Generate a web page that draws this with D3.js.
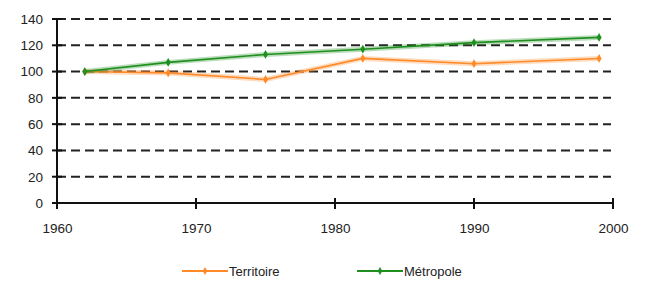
<!DOCTYPE html>
<html>
<head>
<meta charset="utf-8">
<script src="https://cdn.jsdelivr.net/npm/d3@7"></script>
<style>
  body { margin: 0; background: #fff; }
  text { font-family: "Liberation Sans", Arial, sans-serif; }
</style>
</head>
<body>
<div id="chart"></div>
<script>
// data
var years = [1962, 1968, 1975, 1982, 1990, 1999];
var territoire = [100, 99, 94, 110, 106, 110];
var metropole = [100, 107, 113, 117, 122, 126];
var yTicks = [0, 20, 40, 60, 80, 100, 120, 140];
var xTicks = [1960, 1970, 1980, 1990, 2000];
var seriesNames = ['Territoire', 'Métropole'];
var seriesColors = ['#ff8a2a', '#1f8f1f'];

var width = 648, height = 282;
var margins = { top: 19, right: 35, bottom: 79, left: 57 };
var chartWidth = width - margins.left - margins.right;
var chartHeight = height - margins.top - margins.bottom;

var svg = d3.select('#chart').append('svg')
  .attr('width', width)
  .attr('height', height);

var g = svg.append('g')
  .attr('transform', `translate(${margins.left},${margins.top})`);

var xScale = d3.scaleLinear().domain([1960, 2000]).range([0, 556]);
var yScale = d3.scaleLinear().domain([0, 140]).range([chartHeight, 0]);

// dashed gridlines
g.selectAll('.grid')
  .data(yTicks.filter(function(d) { return d > 0; }))
  .enter().append('line')
  .attr('x1', 0)
  .attr('x2', 554)
  .attr('y1', function(d) { return yScale(d); })
  .attr('y2', function(d) { return yScale(d); })
  .attr('stroke', '#222')
  .attr('stroke-width', 2)
  .attr('stroke-dasharray', '9,5');

// y axis: ticks cross the axis line
var yAxis = d3.axisLeft(yScale).tickValues(yTicks).tickSize(0).tickPadding(14);
var ya = g.append('g').call(yAxis);
ya.select('.domain').remove();
ya.selectAll('text').attr('font-size', 13.5).attr('fill', '#222');
g.append('line').attr('x1', 0).attr('x2', 0).attr('y1', 0).attr('y2', chartHeight)
  .attr('stroke', '#111').attr('stroke-width', 2);
g.selectAll('.ytick').data(yTicks).enter().append('line')
  .attr('x1', -5).attr('x2', 5)
  .attr('y1', function(d) { return yScale(d); })
  .attr('y2', function(d) { return yScale(d); })
  .attr('stroke', '#111').attr('stroke-width', 2);

// x axis
var xAxis = d3.axisBottom(xScale).tickValues(xTicks).tickFormat(d3.format('d')).tickSize(0).tickPadding(20);
var xa = g.append('g').attr('transform', `translate(0,${chartHeight})`).call(xAxis);
xa.select('.domain').remove();
xa.selectAll('text').attr('font-size', 13.5).attr('fill', '#222');
g.append('line').attr('x1', 0).attr('x2', xScale(2000)).attr('y1', chartHeight).attr('y2', chartHeight)
  .attr('stroke', '#111').attr('stroke-width', 2);
g.selectAll('.xtick').data(xTicks).enter().append('line')
  .attr('x1', function(d) { return xScale(d); })
  .attr('x2', function(d) { return xScale(d); })
  .attr('y1', chartHeight - 5).attr('y2', chartHeight + 6)
  .attr('stroke', '#111').attr('stroke-width', 2);

// series lines
var line = d3.line()
  .x(function(d) { return xScale(d.year); })
  .y(function(d) { return yScale(d.value); });

[territoire, metropole].forEach(function(values, i) {
  var pts = years.map(function(y, j) { return { year: y, value: values[j] }; });
  g.append('path').datum(pts).attr('d', line)
    .attr('fill', 'none').attr('stroke', seriesColors[i])
    .attr('stroke-opacity', 0.3).attr('stroke-width', 5);
  g.append('path').datum(pts).attr('d', line)
    .attr('fill', 'none').attr('stroke', seriesColors[i]).attr('stroke-width', 1.6);
  g.selectAll('.m' + i).data(pts).enter().append('path')
    .attr('d', d3.symbol().type(d3.symbolDiamond).size(22))
    .attr('transform', function(d) { return `translate(${xScale(d.year)},${yScale(d.value)})`; })
    .attr('fill', seriesColors[i]);
});

// legend
var legendX = [182, 357];
seriesNames.forEach(function(name, i) {
  var lg = svg.append('g').attr('transform', `translate(${legendX[i]},271)`);
  lg.append('line').attr('x1', 0).attr('x2', 46).attr('y1', 0).attr('y2', 0)
    .attr('stroke', seriesColors[i]).attr('stroke-width', 2);
  lg.append('path').attr('d', d3.symbol().type(d3.symbolDiamond).size(18))
    .attr('transform', 'translate(23,0)').attr('fill', seriesColors[i]);
  lg.append('text').attr('x', 47).attr('y', 5).attr('font-size', 13).attr('fill', '#222').text(name);
});
</script>
</body>
</html>
